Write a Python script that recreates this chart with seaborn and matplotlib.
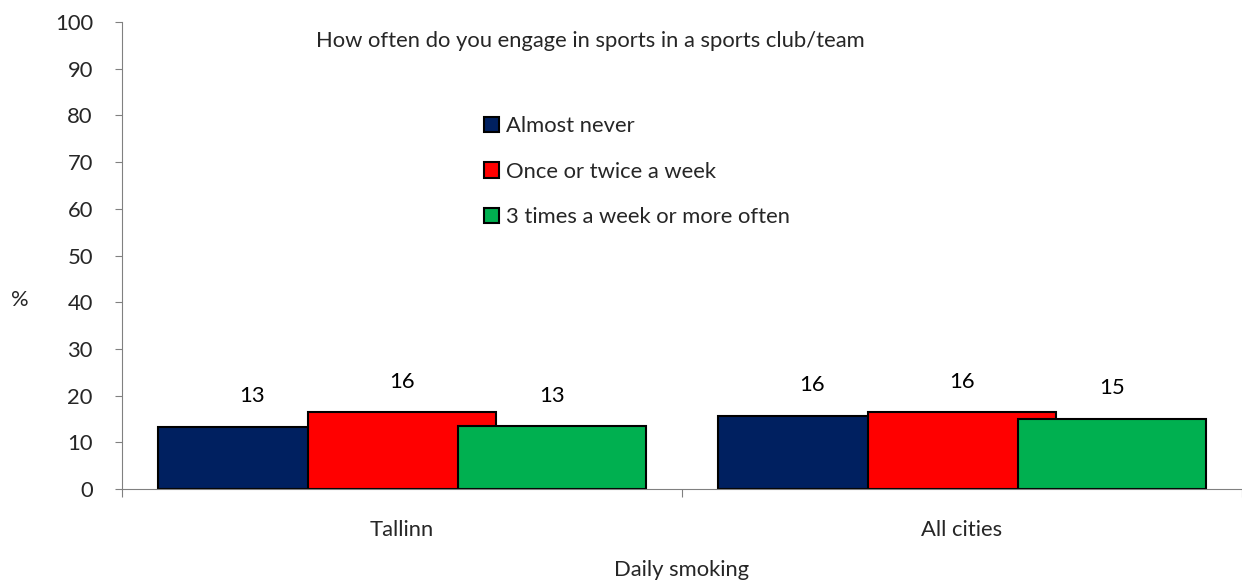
import matplotlib
matplotlib.use("Agg")
import matplotlib.pyplot as plt
import seaborn as sns
import pandas as pd

categories = ["Tallinn", "All cities"]
series = ["Almost never", "Once or twice a week", "3 times a week or more often"]
almost_never = [13.3, 15.7]
once_twice = [16.4, 16.4]
three_times = [13.4, 15.0]
colors = ["#002060", "#FF0000", "#00B050"]
yticks = list(range(0, 101, 10))

sns.set_theme(style="white")
plt.rcParams["font.family"] = ["Lato", "DejaVu Sans"]
FS = 15.8

rows = []
for s, vals in zip(series, [almost_never, once_twice, three_times]):
    for c, v in zip(categories, vals):
        rows.append({"city": c, "freq": s, "value": v})
df = pd.DataFrame(rows)

fig = plt.figure(figsize=(12.42, 5.86), dpi=100)
ax = fig.add_axes([122 / 1242, 1 - 489 / 586, 1 - 122 / 1242, (489 - 22) / 586])

sns.barplot(data=df, x="city", y="value", hue="freq", order=categories,
            hue_order=series, palette=colors, width=0.804, dodge=True,
            edgecolor="black", linewidth=1.5, saturation=1, ax=ax, legend=True)

bw = 0.335
for p in ax.patches:
    if p.get_height() > 0 and p.get_width() > 0 and p.get_width() < 1:
        cx = p.get_x() + p.get_width() / 2
        p.set_x(cx - bw / 2)
        p.set_width(bw)
        ax.annotate(f"{p.get_height():.0f}", (cx, p.get_height()),
                    xytext=(0, 22), textcoords="offset points",
                    ha="center", va="center", fontsize=FS, color="black")

ax.set_xlim(-0.5, 1.5)
ax.set_ylim(0, 100)
ax.set_yticks(yticks)
ax.set_yticklabels([str(t) for t in yticks], fontsize=FS)
ax.tick_params(axis="y", direction="out", length=5, width=0.8, color="#808080",
               pad=16, left=True)
ax.set_xticks([-0.5, 0.5, 1.5])
ax.set_xticklabels(["", "", ""])
ax.set_xticks([0, 1], minor=True)
ax.set_xticklabels(categories, minor=True, fontsize=FS)
ax.tick_params(axis="x", which="major", direction="out", length=6, width=0.8,
               color="#808080", bottom=True)
ax.tick_params(axis="x", which="minor", length=0, pad=22)
for s in ["top", "right"]:
    ax.spines[s].set_visible(False)
for s in ["left", "bottom"]:
    ax.spines[s].set_color("#808080")
    ax.spines[s].set_linewidth(0.8)
ax.set_xlabel("")
ax.set_ylabel("")

handles, labels = ax.get_legend_handles_labels()
ax.legend(handles, labels, loc="upper left",
          bbox_to_anchor=(484 / 1242, 1 - 116 / 586), bbox_transform=fig.transFigure,
          frameon=False, fontsize=FS, handlelength=0.7, handleheight=0.7,
          handletextpad=0.3, labelspacing=1.17, borderpad=0, borderaxespad=0)

fig.text(590 / 1242, 1 - 41 / 586, "How often do you engage in sports in a sports club/team",
         ha="center", va="center", fontsize=FS)
fig.text(682 / 1242, 1 - 570 / 586, "Daily smoking", ha="center", va="center", fontsize=FS)
fig.text(20 / 1242, 1 - 300 / 586, "%", ha="center", va="center", fontsize=FS)

fig.savefig("out.png", dpi=100)
